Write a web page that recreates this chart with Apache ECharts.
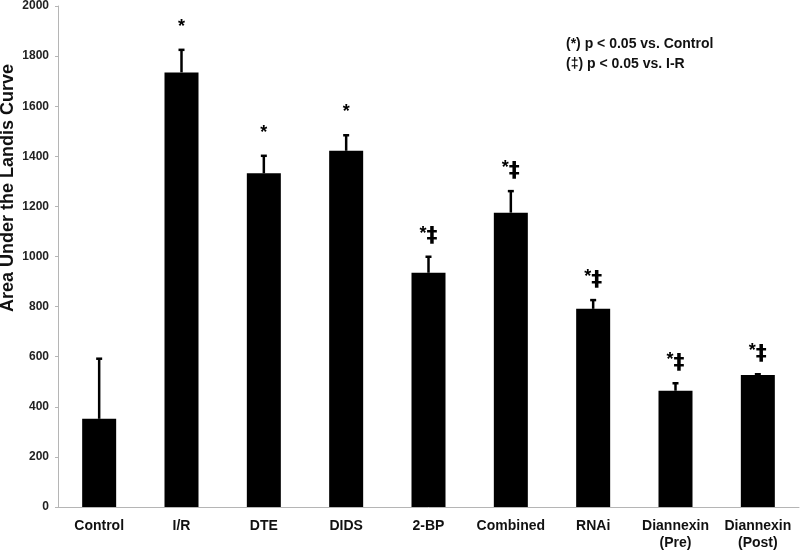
<!DOCTYPE html>
<html>
<head>
<meta charset="utf-8">
<script src="https://cdn.jsdelivr.net/npm/echarts@6/dist/echarts.min.js"></script>
<style>
  html, body { margin: 0; padding: 0; background: #fff; }
  #myChart { width: 800px; height: 552px; }
</style>
</head>
<body>
<div id="myChart"></div>
<script>
var categories = ["Control", "I/R", "DTE", "DIDS", "2-BP", "Combined", "RNAi", "Diannexin\n(Pre)", "Diannexin\n(Post)"];
var means = [352, 1735, 1332, 1422, 935, 1175, 791, 464, 527];
var errors = [240, 90, 70, 62, 64, 86, 35, 30, 3];
var marks = ["", "*", "*", "*", "*‡", "*‡", "*‡", "*‡", "*‡"];
var yTicks = [0, 2000, 200];

var errData = means.map(function (v, i) {
  return [i, v, errors[i]];
});

var myChart = echarts.init(document.getElementById("myChart"));
var font = "Liberation Sans, Arial, sans-serif";
var option = {
  animation: false,
  grid: { left: 58, right: 1, top: 5, bottom: 40 },
  graphic: [
    {
      type: "text",
      left: 566,
      top: 34,
      style: {
        text: "(*) p < 0.05 vs. Control\n(‡) p < 0.05 vs. I-R",
        font: "bold 14px " + font,
        fill: "#111",
        lineHeight: 20
      }
    },
    {
      type: "text",
      x: 8,
      y: 188,
      rotation: Math.PI / 2,
      style: {
        text: "Area Under the Landis Curve",
        font: "bold 18px " + font,
        fill: "#111",
        align: "center",
        verticalAlign: "middle"
      }
    }
  ],
  xAxis: {
    type: "category",
    data: categories,
    axisLine: { lineStyle: { color: "#b5b5b5", width: 1 } },
    axisTick: { length: 4, lineStyle: { color: "#b5b5b5" } },
    axisLabel: {
      interval: 0,
      margin: 11,
      color: "#111",
      fontWeight: "bold",
      fontSize: 14,
      fontFamily: font,
      lineHeight: 17
    }
  },
  yAxis: {
    type: "value",
    min: yTicks[0],
    max: yTicks[1],
    interval: yTicks[2],
    axisLine: { show: true, lineStyle: { color: "#b5b5b5", width: 1 } },
    axisTick: { show: true, length: 3, lineStyle: { color: "#b5b5b5" } },
    splitLine: { show: false },
    axisLabel: {
      margin: 9,
      color: "#222",
      fontWeight: "bold",
      fontSize: 12,
      fontFamily: font,
      formatter: function (v) { return String(v); }
    }
  },
  series: [
    {
      type: "bar",
      data: means,
      barWidth: 34,
      itemStyle: { color: "#000" }
    },
    {
      type: "custom",
      data: errData,
      z: 10,
      renderItem: function (params, api) {
        var i = api.value(0);
        var v = api.value(1);
        var e = api.value(2);
        var lab = marks[params.dataIndex];
        var base = api.coord([i, v]);
        var top = api.coord([i, v + e]);
        var children = [
          {
            type: "line",
            shape: { x1: base[0], y1: base[1], x2: top[0], y2: top[1] },
            style: { stroke: "#000", lineWidth: 2.5 }
          },
          {
            type: "line",
            shape: { x1: top[0] - 3, y1: top[1], x2: top[0] + 3, y2: top[1] },
            style: { stroke: "#000", lineWidth: 2.5 }
          }
        ];
        if (lab) {
          children.push({
            type: "text",
            x: top[0],
            y: top[1] - 8,
            style: {
              text: lab.replace("*", "{s|*}").replace("‡", "{d|‡}"),
              rich: {
                s: { font: "bold 18px " + font, fill: "#000", verticalAlign: "top", padding: [0, 0, 6, 0] },
                d: { font: "bold 22px DejaVu Sans, sans-serif", fill: "#000" }
              },
              align: "center",
              verticalAlign: "bottom"
            }
          });
        }
        return { type: "group", children: children };
      }
    }
  ]
};
myChart.setOption(option);
</script>
</body>
</html>
